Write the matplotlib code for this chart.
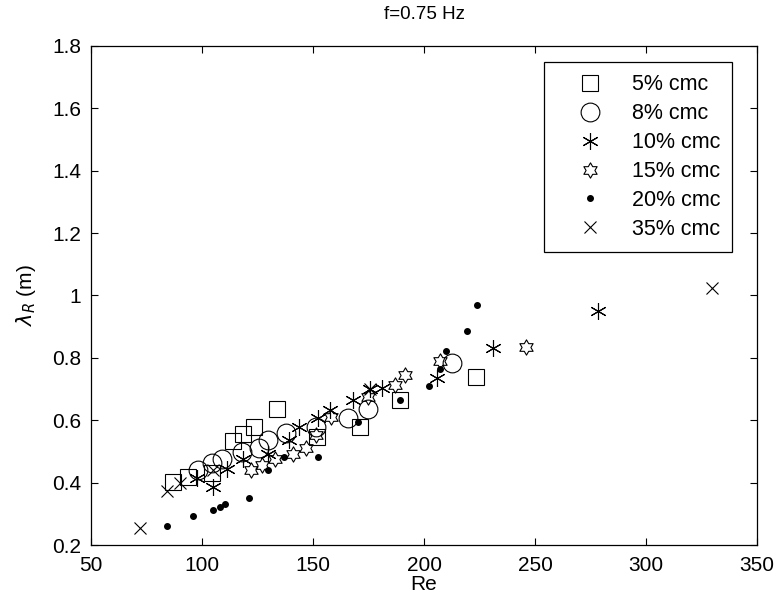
import matplotlib.pyplot as plt
import numpy as np
from matplotlib.path import Path

plt.rcParams['font.family'] = ['Liberation Sans', 'DejaVu Sans']

# 5% cmc
re5 = [86.9, 93.7, 104.5, 114, 118.5, 123.4, 133.8, 152, 171.2, 189.2, 223.4]
lam5 = [0.402, 0.418, 0.431, 0.533, 0.556, 0.578, 0.636, 0.545, 0.578, 0.665, 0.738]
# 8% cmc
re8 = [98.2, 104.5, 109, 118, 125.7, 129.7, 137.8, 151.4, 165.8, 174.8, 212.6]
lam8 = [0.44, 0.463, 0.475, 0.498, 0.511, 0.537, 0.559, 0.578, 0.607, 0.636, 0.783]
# 10% cmc
re10 = [97.7, 105, 111.3, 118.5, 129.7, 139, 143.7, 152.3, 157.7, 168, 175.7, 181, 205.9, 231, 278.4]
lam10 = [0.415, 0.386, 0.443, 0.476, 0.492, 0.537, 0.578, 0.607, 0.633, 0.665, 0.70, 0.703, 0.735, 0.831, 0.95]
# 15% cmc
re15 = [122, 127, 132.9, 141, 146.8, 151.4, 158.1, 174.8, 187, 191.4, 207.2, 246]
lam15 = [0.44, 0.456, 0.476, 0.492, 0.511, 0.553, 0.61, 0.674, 0.713, 0.745, 0.79, 0.835]
# 20% cmc
re20 = [84.2, 96, 105, 108, 110.4, 121.2, 129.7, 137, 152.3, 170.3, 189.2, 202.3, 207.2, 210, 219.4, 223.9]
lam20 = [0.261, 0.293, 0.312, 0.322, 0.331, 0.351, 0.44, 0.482, 0.482, 0.594, 0.665, 0.71, 0.764, 0.822, 0.886, 0.969]
# 35% cmc
re35 = [72, 84.2, 90, 105, 175.7, 329.7]
lam35 = [0.255, 0.373, 0.40, 0.44, 0.70, 1.024]

labels = ['5% cmc', '8% cmc', '10% cmc', '15% cmc', '20% cmc', '35% cmc']

hexagram = Path.unit_regular_star(6, 0.577)

fig = plt.figure(figsize=(7.78, 6.03), dpi=100)
ax = fig.add_axes([0.117, 0.096, 0.856, 0.828])

ax.plot(re5, lam5, 's', ms=11, mfc='none', mec='k', mew=0.8, label=labels[0])
ax.plot(re8, lam8, 'o', ms=13.5, mfc='none', mec='k', mew=0.8, label=labels[1])
ax.plot(re10, lam10, ls='none', marker=(6, 2, 0), ms=12, mec='k', mew=0.8, label=labels[2])
ax.plot(re15, lam15, ls='none', marker=hexagram, ms=11, mfc='none', mec='k', mew=0.8, label=labels[3])
ax.plot(re20, lam20, 'o', ms=4, mfc='k', mec='k', label=labels[4])
ax.plot(re35, lam35, 'x', ms=9, mec='k', mew=0.8, label=labels[5])

ax.set_xlim(50, 350)
ax.set_ylim(0.2, 1.8)
ax.set_xticks(np.arange(50, 351, 50))
ax.set_yticks(np.arange(0.2, 1.81, 0.2))
ax.set_yticklabels(['0.2', '0.4', '0.6', '0.8', '1', '1.2', '1.4', '1.6', '1.8'])
ax.tick_params(direction='in', top=True, right=True, labelsize=15, length=5)
ax.tick_params(axis='x', pad=8)
ax.tick_params(axis='y', pad=7)
for s in ax.spines.values():
    s.set_linewidth(0.9)

ax.set_xlabel('Re', fontsize=15, labelpad=0)
ax.set_ylabel(r'$\lambda_R$ (m)', fontsize=15, labelpad=10)
ax.set_title('f=0.75 Hz', fontsize=13.5, pad=19)

leg = ax.legend(loc='upper right', bbox_to_anchor=(0.9625, 0.967), fontsize=15.5,
                frameon=True, fancybox=False, edgecolor='k', framealpha=1,
                borderaxespad=0, borderpad=0.55, handlelength=3.1, handletextpad=0.4,
                labelspacing=0.37, numpoints=1)
leg.get_frame().set_linewidth(0.9)

fig.savefig('out.png', dpi=100)
